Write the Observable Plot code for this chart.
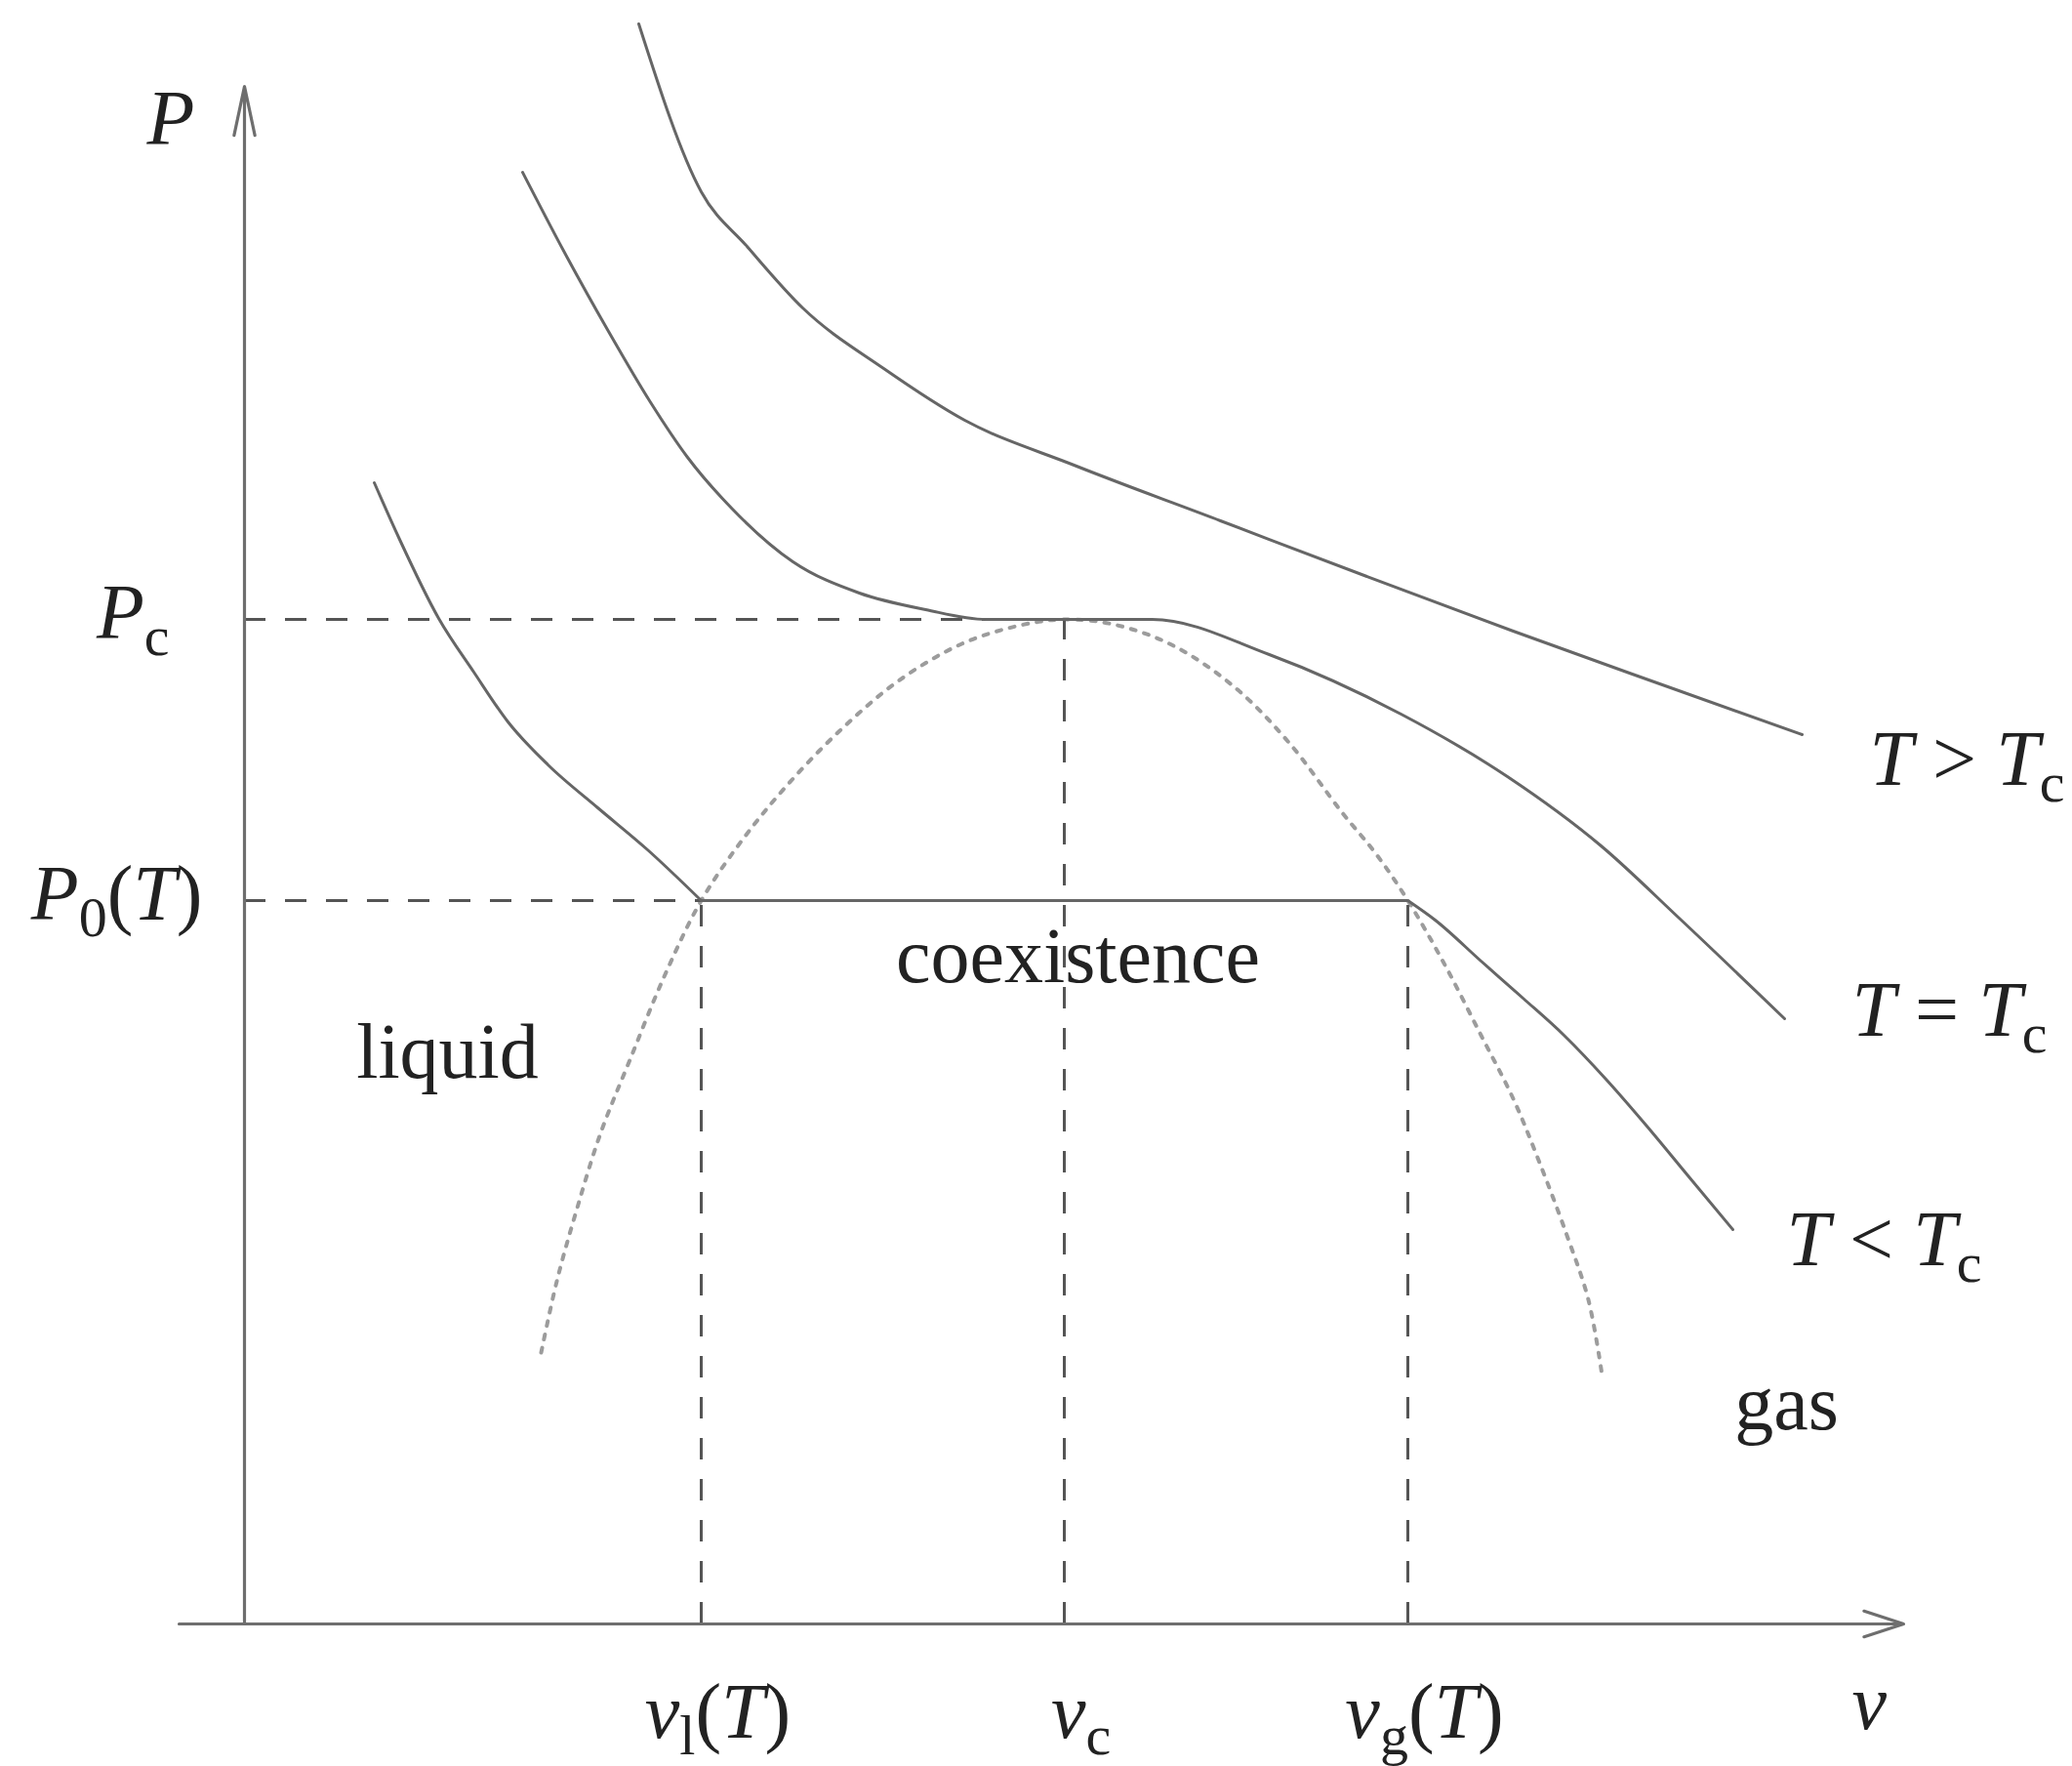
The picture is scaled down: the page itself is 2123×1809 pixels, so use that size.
<!DOCTYPE html>
<html>
<head>
<meta charset="utf-8">
<script src="https://cdn.jsdelivr.net/npm/d3@7"></script>
<script src="https://cdn.jsdelivr.net/npm/@observablehq/plot@0.6"></script>
<style>
  html, body { margin: 0; padding: 0; background: #fff; overflow: hidden; }
  #chart svg { display: block; }
</style>
</head>
<body>
<div id="chart"></div>
<script>
// P–v diagram of a simple fluid (arbitrary units: v = specific volume, P = pressure)

// Axis extents (v axis overhangs slightly to the left of the P axis)
const vAxisExtent = [-0.67, 17.0];
const pAxisExtent = [0, 15.75];

// Marked volumes on the v axis and their labels ("_" starts a subscript)
const vTicks = [4.68, 8.40, 11.92];
const vTickLabels = ["v_l(T)", "v_c", "v_g(T)"];
// Pressure reached by each dashed vertical guide
const vGuideTops = [7.41, 10.29, 7.41];

// Marked pressures on the P axis
const pTicks = [10.29, 7.41];
const pTickLabels = ["P_c", "P_0(T)"];
// Volume where each dashed horizontal guide stops
const pGuideEnds = [8.40, 4.68];

// Isotherm T > Tc
const aboveV = [4.04, 4.68, 5.15, 5.72, 6.55, 7.38, 8.50, 10.00, 11.50, 13.00, 14.50, 15.96];
const aboveP = [16.39, 14.67, 14.11, 13.48, 12.86, 12.33, 11.87, 11.30, 10.73, 10.17, 9.63, 9.11];

// Critical isotherm T = Tc (flat inflection at Pc)
const criticalV = [2.85, 3.30, 3.73, 4.15, 4.54, 5.00, 5.62, 6.30, 6.98, 7.60, 9.30, 10.50, 11.85, 12.94, 13.90, 14.70, 15.78];
const criticalP = [14.87, 14.01, 13.24, 12.53, 11.95, 11.42, 10.88, 10.56, 10.39, 10.29, 10.29, 9.93, 9.32, 8.68, 7.97, 7.23, 6.20];

// Isotherm T < Tc: liquid branch, then gas branch; the two are joined by
// the coexistence tie line at P0(T) between v_l(T) and v_g(T)
const belowLiquidV = [1.33, 1.58, 1.99, 2.35, 2.70, 3.11, 3.62, 4.13, 4.68];
const belowLiquidP = [11.69, 11.13, 10.30, 9.75, 9.24, 8.80, 8.36, 7.93, 7.41];
const belowGasV = [11.92, 12.20, 12.67, 13.10, 13.52, 13.95, 14.36, 14.80, 15.25];
const belowGasP = [7.41, 7.21, 6.79, 6.41, 6.03, 5.58, 5.11, 4.58, 4.04];

// Coexistence curve (dotted dome)
const domeV = [3.04, 3.20, 3.40, 3.65, 3.95, 4.30, 4.68, 5.10, 5.55, 6.10, 6.70, 7.35, 7.95, 8.40, 8.90, 9.50, 10.14, 10.70, 11.24, 11.60, 11.92, 12.30, 12.67, 13.00, 13.26, 13.55, 13.77, 13.91];
const domeP = [2.78, 3.51, 4.23, 5.03, 5.78, 6.63, 7.41, 8.03, 8.58, 9.15, 9.66, 10.04, 10.23, 10.29, 10.24, 10.03, 9.60, 9.03, 8.32, 7.88, 7.41, 6.75, 6.03, 5.38, 4.75, 3.98, 3.32, 2.55];

// Isotherm labels (baseline-left anchor)
const isoLabels = ["T > T_c", "T = T_c", "T < T_c"];
const isoLabelV = [16.65, 16.47, 15.80];
const isoLabelP = [8.60, 6.03, 3.68];

// Phase region labels (baseline-centre anchor)
const regionLabels = ["liquid", "coexistence", "gas"];
const regionLabelV = [2.08, 8.54, 15.80];
const regionLabelP = [5.60, 6.58, 2.00];

// Axis titles
const axisTitles = ["P", "v"];
const axisTitleV = [-1.00, 16.47];
const axisTitleP = [15.16, -1.07];

const CURVE = "#666";
const GUIDE = "#555";
const AXIS = "#6e6e6e";
const DASH = "22,20";

const hGuides = pTicks.map((p, i) => ({p, v: pGuideEnds[i]}));
const vGuides = vTicks.map((v, i) => ({v, p: vGuideTops[i]}));
const vTickText = new Map(vTicks.map((v, i) => [v, vTickLabels[i]]));
const pTickText = new Map(pTicks.map((p, i) => [p, pTickLabels[i]]));
const tieLine = [{p: pTicks[1], v1: vTicks[0], v2: vTicks[2]}];

const isotherm = {curve: "monotone-x", stroke: CURVE, strokeWidth: 3, strokeLinejoin: "round"};

const svg = Plot.plot({
  width: 2123,
  height: 1809,
  marginLeft: 250,
  marginRight: 173,
  marginTop: 88,
  marginBottom: 146,
  x: {domain: [0, vAxisExtent[1]], axis: null},
  y: {domain: pAxisExtent, axis: null},
  style: {
    fontFamily: "'Liberation Serif', 'DejaVu Serif', serif",
    fontSize: "80px",
    color: "#222",
    background: "#fff"
  },
  marks: [
    // coexistence dome
    Plot.line(d3.zip(domeV, domeP), {
      curve: "catmull-rom", stroke: "#9c9c9c", strokeWidth: 4,
      strokeDasharray: "5,9", strokeLinecap: "round"
    }),
    // dashed guides
    Plot.ruleY(hGuides, {y: "p", x1: 0, x2: "v", stroke: GUIDE, strokeWidth: 3, strokeDasharray: DASH}),
    Plot.ruleX(vGuides, {x: "v", y1: 0, y2: "p", stroke: GUIDE, strokeWidth: 3, strokeDasharray: DASH}),
    // isotherms
    Plot.line(d3.zip(belowLiquidV, belowLiquidP), isotherm),
    Plot.ruleY(tieLine, {y: "p", x1: "v1", x2: "v2", stroke: CURVE, strokeWidth: 3}),
    Plot.line(d3.zip(belowGasV, belowGasP), isotherm),
    Plot.line(d3.zip(criticalV, criticalP), isotherm),
    Plot.line(d3.zip(aboveV, aboveP), isotherm),
    // axes with arrowheads
    Plot.arrow([{x1: vAxisExtent[0], x2: vAxisExtent[1], y: 0}], {
      x1: "x1", x2: "x2", y1: "y", y2: "y",
      stroke: AXIS, strokeWidth: 3.2, headLength: 20, headAngle: 36
    }),
    Plot.arrow([{x: 0, y1: pAxisExtent[0], y2: pAxisExtent[1]}], {
      x1: "x", x2: "x", y1: "y1", y2: "y2",
      stroke: AXIS, strokeWidth: 3.2, headLength: 24, headAngle: 24
    }),
    // tick labels
    Plot.axisX(vTicks, {
      tickSize: 0, tickPadding: 60, tickFormat: (d) => vTickText.get(d),
      label: null, dx: 17, fill: "#222"
    }),
    Plot.axisY([pTicks[0]], {
      tickSize: 0, tickPadding: 77, tickFormat: (d) => pTickText.get(d),
      label: null, dy: -6, fill: "#222"
    }),
    Plot.axisY([pTicks[1]], {
      tickSize: 0, tickPadding: 43, tickFormat: (d) => pTickText.get(d),
      label: null, dy: -6, fill: "#222"
    }),
    // annotations
    Plot.text(d3.zip(isoLabelV, isoLabelP, isoLabels), {
      x: (d) => d[0], y: (d) => d[1], text: (d) => d[2],
      textAnchor: "start", lineAnchor: "bottom", fill: "#222"
    }),
    Plot.text(d3.zip(regionLabelV, regionLabelP, regionLabels), {
      x: (d) => d[0], y: (d) => d[1], text: (d) => d[2],
      textAnchor: "middle", lineAnchor: "bottom", fill: "#222"
    }),
    Plot.text(d3.zip(axisTitleV, axisTitleP, axisTitles), {
      x: (d) => d[0], y: (d) => d[1], text: (d) => d[2],
      textAnchor: "start", lineAnchor: "bottom", fill: "#222"
    })
  ]
});

// Math typesetting: Latin letters italic, "_x" becomes a roman subscript
const SVG_NS = "http://www.w3.org/2000/svg";
const SUB_SIZE = "58px";
const SUB_DROP = 17;
const mathLabels = new Set([...vTickLabels, ...pTickLabels, ...isoLabels, ...axisTitles]);

function typeset(el) {
  const src = el.textContent;
  const runs = [];
  for (let i = 0; i < src.length; i++) {
    let ch = src[i];
    let kind;
    if (ch === "_") { ch = src[++i]; kind = "sub"; }
    else kind = /[A-Za-z]/.test(ch) ? "ital" : "roman";
    const last = runs[runs.length - 1];
    if (last && last.kind === kind && kind !== "sub") last.text += ch;
    else runs.push({kind, text: ch});
  }
  el.textContent = "";
  el.style.whiteSpace = "pre";
  let lowered = false;
  for (const run of runs) {
    const t = document.createElementNS(SVG_NS, "tspan");
    t.textContent = run.text;
    if (run.kind === "ital") t.setAttribute("font-style", "italic");
    if (run.kind === "sub") {
      t.setAttribute("font-size", SUB_SIZE);
      if (!lowered) t.setAttribute("dy", SUB_DROP);
      lowered = true;
    } else if (lowered) {
      t.setAttribute("dy", -SUB_DROP);
      lowered = false;
    }
    el.appendChild(t);
  }
}

svg.querySelectorAll("text").forEach((el) => {
  if (mathLabels.has(el.textContent)) typeset(el);
});

document.getElementById("chart").appendChild(svg);
</script>
</body>
</html>
